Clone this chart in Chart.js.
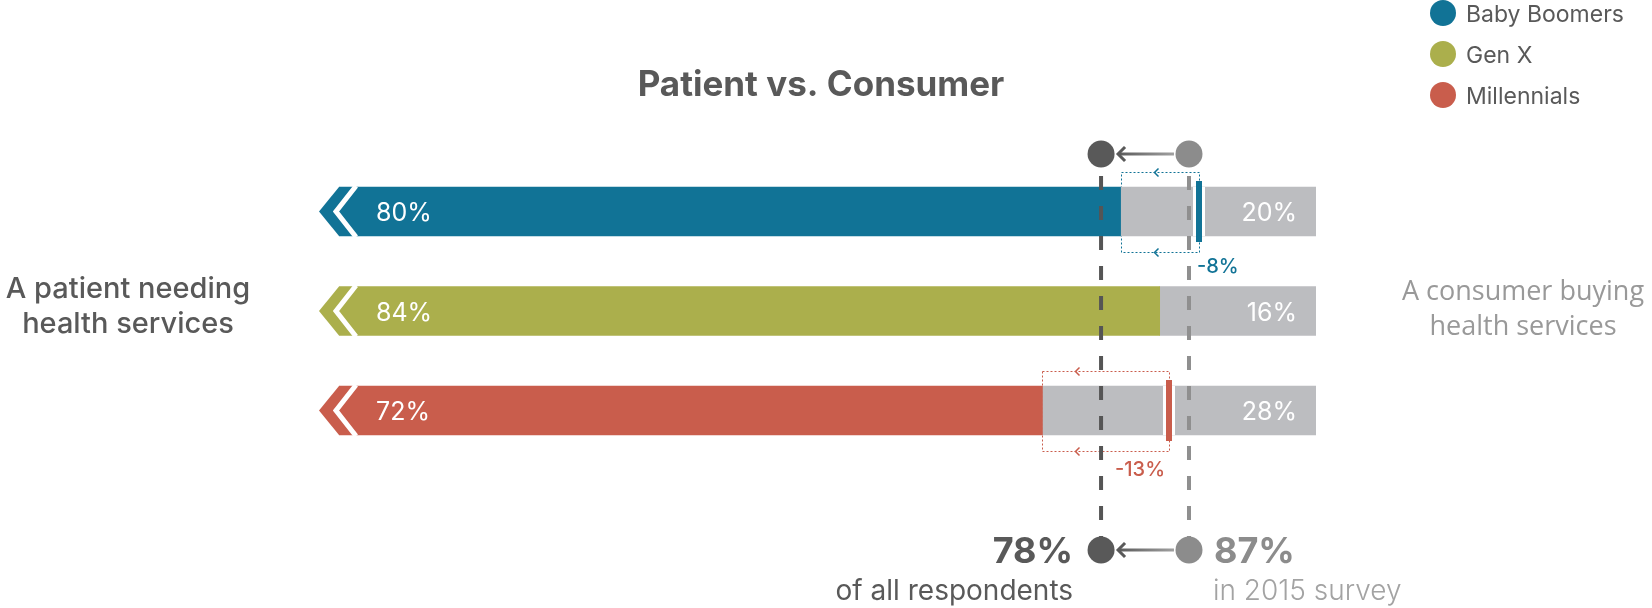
<!DOCTYPE html>
<html>
<head>
<meta charset="utf-8">
<title>Patient vs. Consumer</title>
<script src="https://cdn.jsdelivr.net/npm/chart.js@4.4.1/dist/chart.umd.min.js"></script>
<style>
  html, body { margin: 0; padding: 0; background: #fff; }
  #chart { display: block; }
</style>
</head>
<body>
<canvas id="chart" width="1652" height="608"></canvas>
<script>
//Generations shown as rows
const generations = ["Baby Boomers", "Gen X", "Millennials"];
//Share who see themselves as a patient needing health services
const patientShare = [80, 84, 72];
//Share who see themselves as a consumer buying health services
const consumerShare = [20, 16, 28];
//Patient share in the 2015 survey (only where it changed)
const patient2015 = [88, null, 85];
//All respondents, now and in 2015
const allRespondents = 78;
const allRespondents2015 = 87;

const genColors = ["#117396", "#abaf4c", "#c95d4c"];
const grayColor = "#bcbdc0";
const darkGray = "#595959";
const midGray = "#8c8c8c";
const FONT = "Inter, 'Noto Sans', sans-serif";

//arrow with gradient line, pointing left
const drawArrow = (ctx, xFrom, xTo, y) => {
  const grad = ctx.createLinearGradient(xTo, y, xFrom, y);
  grad.addColorStop(0, darkGray);
  grad.addColorStop(1, "#a0a0a0");
  ctx.strokeStyle = grad;
  ctx.lineWidth = 3;
  ctx.setLineDash([]);
  ctx.beginPath();
  ctx.moveTo(xFrom, y);
  ctx.lineTo(xTo + 1, y);
  ctx.stroke();
  ctx.strokeStyle = darkGray;
  ctx.lineJoin = "miter";
  ctx.beginPath();
  ctx.moveTo(xTo + 8, y - 7);
  ctx.lineTo(xTo + 1, y);
  ctx.lineTo(xTo + 8, y + 7);
  ctx.stroke();
};

const circle = (ctx, x, y, r, color) => {
  ctx.fillStyle = color;
  ctx.beginPath();
  ctx.arc(x, y, r, 0, Math.PI * 2);
  ctx.fill();
};

//Plugin for the chevrons, markers, reference lines and texts
const overlay = {
  id: "overlay",
  beforeDatasetsDraw(chart) {
    const ctx = chart.ctx;
    const xs = chart.scales.x;
    const bars = chart.getDatasetMeta(0).data;
    ctx.save();
    patient2015.forEach((prev, i) => {
      if (prev == null) return;
      const bar = bars[i];
      const top = bar.y - bar.height / 2;
      const bottom = bar.y + bar.height / 2;
      const x0 = Math.round(xs.getPixelForValue(patientShare[i])) + 0.5;
      const x1 = Math.round(xs.getPixelForValue(prev)) + 0.5;
      const y0 = Math.round(top - 15) + 0.5;
      const y1 = Math.round(bottom + 16) + 0.5;
      //dotted box from current value to 2015 value
      ctx.strokeStyle = genColors[i];
      ctx.lineWidth = 1;
      ctx.setLineDash([2, 2]);
      ctx.beginPath();
      ctx.rect(x0, y0, x1 - x0, y1 - y0);
      ctx.stroke();
      ctx.setLineDash([]);
      ctx.lineWidth = 1.5;
      [y0, y1].forEach((yy) => {
        ctx.beginPath();
        ctx.moveTo(x0 + 37, yy - 4);
        ctx.lineTo(x0 + 33, yy);
        ctx.lineTo(x0 + 37, yy + 4);
        ctx.stroke();
      });
    });
    ctx.restore();
  },
  afterDatasetsDraw(chart) {
    const ctx = chart.ctx;
    const xs = chart.scales.x;
    const bars = chart.getDatasetMeta(0).data;
    const grays = chart.getDatasetMeta(1).data;
    ctx.save();

    bars.forEach((bar, i) => {
      const h = bar.height;
      const top = bar.y - h / 2;
      const bottom = bar.y + h / 2;
      const b = bar.base;
      //arrow tip on the left
      ctx.fillStyle = genColors[i];
      ctx.beginPath();
      ctx.moveTo(b, top);
      ctx.lineTo(b - 20, bar.y);
      ctx.lineTo(b, bottom);
      ctx.closePath();
      ctx.fill();
      //white chevron cut
      ctx.strokeStyle = "#fff";
      ctx.lineWidth = 5;
      ctx.lineJoin = "miter";
      ctx.beginPath();
      ctx.moveTo(b + 17, top - 1);
      ctx.lineTo(b - 3, bar.y);
      ctx.lineTo(b + 17, bottom + 1);
      ctx.stroke();
      //value labels
      ctx.fillStyle = "#fff";
      ctx.font = "400 25px " + FONT;
      ctx.textAlign = "left";
      ctx.textBaseline = "alphabetic";
      ctx.fillText(patientShare[i] + "%", b + 37, bar.y + 9.5);
      ctx.textAlign = "right";
      ctx.fillText(consumerShare[i] + "%", grays[i].x - 19, bar.y + 9.5);
    });

    //2015 markers and change labels
    patient2015.forEach((prev, i) => {
      if (prev == null) return;
      const bar = bars[i];
      const top = bar.y - bar.height / 2;
      const bottom = bar.y + bar.height / 2;
      const px = Math.round(xs.getPixelForValue(prev));
      ctx.fillStyle = "#fff";
      ctx.fillRect(px - 6, top, 12, bar.height);
      ctx.fillStyle = genColors[i];
      ctx.fillRect(px - 3, top - 6, 6, bar.height + 12);
      ctx.font = "500 20px " + FONT;
      ctx.textBaseline = "alphabetic";
      const change = patientShare[i] - prev + "%";
      if (i === 0) {
        ctx.textAlign = "left";
        ctx.fillText(change, px - 2, bottom + 37);
      } else {
        ctx.textAlign = "right";
        ctx.fillText(change, px - 4, bottom + 41);
      }
    });

    //reference lines: all respondents now and 2015
    const xNow = xs.getPixelForValue(allRespondents);
    const xPrev = xs.getPixelForValue(allRespondents2015);
    const yTop = 154;
    const yBottom = 550;
    ctx.lineWidth = 4;
    ctx.setLineDash([14, 16]);
    [[xNow, "#555555"], [xPrev, "#8f8f8f"]].forEach(([px, color]) => {
      ctx.strokeStyle = color;
      ctx.beginPath();
      ctx.moveTo(px, 176);
      ctx.lineTo(px, yBottom);
      ctx.stroke();
    });
    ctx.setLineDash([]);
    [yTop, yBottom].forEach((yy) => {
      circle(ctx, xNow, yy, 13.5, darkGray);
      circle(ctx, xPrev, yy, 13.5, midGray);
      drawArrow(ctx, xPrev - 15, xNow + 16, yy);
    });

    //bottom texts
    ctx.textBaseline = "alphabetic";
    ctx.textAlign = "right";
    ctx.fillStyle = darkGray;
    ctx.font = "700 36px " + FONT;
    ctx.fillText(allRespondents + "%", xNow - 28, yBottom + 13);
    ctx.font = "400 28px " + FONT;
    ctx.fillText("of all respondents", xNow - 28, yBottom + 50);
    ctx.textAlign = "left";
    ctx.fillStyle = midGray;
    ctx.font = "700 36px " + FONT;
    ctx.fillText(allRespondents2015 + "%", xPrev + 25, yBottom + 13);
    ctx.fillStyle = "#a3a3a3";
    ctx.font = "300 28px " + FONT;
    ctx.fillText("in 2015 survey", xPrev + 24, yBottom + 50);

    //title
    ctx.textAlign = "center";
    ctx.fillStyle = darkGray;
    ctx.font = "700 35px " + FONT;
    ctx.fillText("Patient vs. Consumer", 821, 96);

    //side labels
    ctx.font = "500 29px " + FONT;
    ctx.fillText("A patient needing", 128, 298);
    ctx.fillText("health services", 128, 333);
    ctx.fillStyle = "#999999";
    ctx.font = "400 27px 'Open Sans', sans-serif";
    ctx.fillText("A consumer buying", 1523, 300);
    ctx.fillText("health services", 1523, 335);

    //legend
    ctx.textAlign = "left";
    ctx.font = "400 23px " + FONT;
    generations.forEach((g, i) => {
      const ly = 13 + i * 41;
      circle(ctx, 1443, ly, 13, genColors[i]);
      ctx.fillStyle = darkGray;
      ctx.fillText(g, 1466, ly + 8.5);
    });
    ctx.restore();
  },
};

//Create chart
const myChart = new Chart(document.getElementById("chart"), {
  type: "bar",
  plugins: [overlay],
  data: {
    labels: generations,
    datasets: [
      {
        data: patientShare,
        backgroundColor: genColors,
        barThickness: 49,
      },
      {
        data: consumerShare,
        backgroundColor: grayColor,
        barThickness: 49,
      },
    ],
  },
  options: {
    indexAxis: "y",
    responsive: false,
    animation: false,
    layout: {
      padding: { left: 339, right: 336, top: 161.75, bottom: 147.75 },
    },
    scales: {
      x: { stacked: true, min: 0, max: 100, display: false },
      y: { stacked: true, display: false },
    },
    plugins: {
      legend: { display: false },
      tooltip: { enabled: false },
    },
  },
});
</script>
</body>
</html>
